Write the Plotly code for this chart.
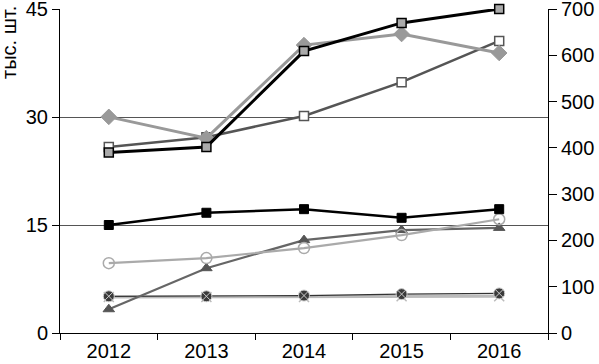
import plotly.graph_objects as go

years = ["2012", "2013", "2014", "2015", "2016"]

# right axis series
s_black_gray_sq = [390, 402, 609, 670, 700]
s_gray_diamond = [467, 421, 622, 646, 605]
s_dark_open_sq = [402, 423, 469, 542, 631]

# left axis series (тыс. шт.)
s_black_sq = [15.0, 16.7, 17.2, 16.0, 17.2]
s_open_circle = [9.7, 10.4, 11.8, 13.6, 15.8]
s_triangle = [3.3, 9.0, 12.9, 14.3, 14.6]
s_circle_x = [5.1, 5.1, 5.2, 5.4, 5.5]
s_x = [5.0, 5.0, 5.0, 5.1, 5.1]

left_ticks = [0, 15, 30, 45]
right_ticks = [0, 100, 200, 300, 400, 500, 600, 700]

fig = go.Figure()

def add(y, axis, lc, lw, sym, ms, fill, mlc, mlw):
    fig.add_trace(go.Scatter(
        x=years, y=y, yaxis=axis, mode="lines+markers",
        line=dict(color=lc, width=lw),
        marker=dict(symbol=sym, size=ms, color=fill, line=dict(color=mlc, width=mlw)),
        showlegend=False, cliponaxis=False))

add(s_x, "y", "#bbbbbb", 3, "x-thin", 10, "#bbbbbb", "#bbbbbb", 1.5)
add(s_circle_x, "y", "#333333", 1.2, "circle-x", 11, "#3a3a3a", "#cccccc", 1)
add(s_triangle, "y", "#666666", 2.2, "triangle-up", 10, "#555555", "#555555", 1)
add(s_open_circle, "y", "#aaaaaa", 2.2, "circle-open", 11, "#aaaaaa", "#aaaaaa", 1.5)
add(s_black_sq, "y", "#000000", 2.5, "square", 9, "#000000", "#000000", 1)
add(s_dark_open_sq, "y2", "#555555", 2.5, "square", 9, "#ffffff", "#555555", 1.5)
add(s_gray_diamond, "y2", "#999999", 3, "diamond", 12, "#999999", "#999999", 1)
add(s_black_gray_sq, "y2", "#000000", 3, "square", 9, "#aaaaaa", "#000000", 1.5)

font = dict(family="Liberation Sans, Arial, sans-serif", size=20, color="#000000")

fig.update_layout(
    width=599, height=364,
    margin=dict(l=60, r=51, t=9, b=31),
    paper_bgcolor="white", plot_bgcolor="white",
    font=font,
    xaxis=dict(type="category", tickson="boundaries", ticks="outside", ticklen=6,
               tickcolor="#000", showline=True, linecolor="#000", linewidth=1,
               showgrid=False, tickfont=font, range=[-0.5, 4.5], automargin=False),
    yaxis=dict(range=[0, 45.0001], tickvals=left_ticks, ticks="outside", ticklen=7,
               tickcolor="#000", showline=True, linecolor="#000", linewidth=1,
               showgrid=True, gridcolor="#555555", gridwidth=1, zeroline=False,
               tickfont=font, automargin=False, ticklabeloverflow="allow"),
    yaxis2=dict(range=[0, 700.001], tickvals=right_ticks, overlaying="y", side="right",
                ticks="outside", ticklen=8, tickcolor="#000", showline=True,
                linecolor="#000", linewidth=1, showgrid=False, zeroline=False,
                tickfont=font, automargin=False, ticklabeloverflow="allow"),
    annotations=[dict(text="тыс. шт.", xref="paper", yref="paper",
                      x=(9 - 60) / 488, y=(333 - 43) / 324, xanchor="center", yanchor="middle",
                      textangle=-90, showarrow=False, font=font)],
)

fig.write_html("out.html", config={"displayModeBar": False},
               post_script="document.body.style.margin='0';document.body.style.overflow='hidden';")
